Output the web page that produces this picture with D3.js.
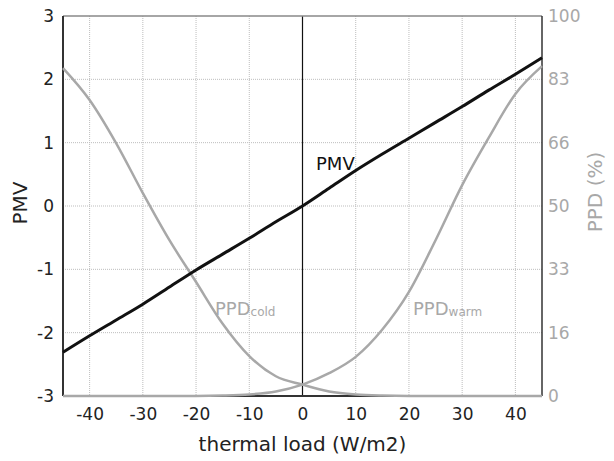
<!DOCTYPE html>
<html>
<head>
<meta charset="utf-8">
<script src="https://cdn.jsdelivr.net/npm/d3@7"></script>
<style>
  body { margin: 0; background: #fff; }
  svg { display: block; }
  text { font-family: "DejaVu Sans", Verdana, sans-serif; }
</style>
</head>
<body>
<svg id="chart" width="614" height="461"></svg>
<script>
// thermal load (W/m2) sample positions
const load = [-45, -40, -35, -30, -25, -20, -15, -10, -5, 0, 5, 10, 15, 20, 25, 30, 35, 40, 45];
// predicted mean vote
const pmv = [-2.31, -2.05, -1.80, -1.55, -1.28, -1.01, -0.76, -0.51, -0.25, 0, 0.28, 0.56, 0.82, 1.07, 1.32, 1.57, 1.83, 2.08, 2.34];
// percentage dissatisfied, cold side and warm side (%)
const ppdCold = [86.3, 77.9, 66.5, 53.4, 41.0, 30.0, 19.0, 10.5, 5.2, 3.0, 1.2, 0.4, 0.1, 0, 0, 0, 0, 0, 0];
const ppdWarm = [0, 0, 0, 0, 0, 0, 0.1, 0.4, 1.2, 3.0, 6.0, 10.3, 17.5, 27.4, 41.0, 55.5, 68.0, 79.5, 86.8];

const xTicks = [-40, -30, -20, -10, 0, 10, 20, 30, 40];
const pmvTicks = [-3, -2, -1, 0, 1, 2, 3];
const ppdTicks = [0, 100 / 6, 200 / 6, 50, 400 / 6, 500 / 6, 100];
const ppdTickLabels = ["0", "16", "33", "50", "66", "83", "100"];

const svg = d3.select("#chart");
const L = 63, R = 542, T = 16, B = 396;
const grey = "#a8a8a8";

const x = d3.scaleLinear().domain([-45, 45]).range([L, R]);
const y = d3.scaleLinear().domain([-3, 3]).range([B, T]);
const yP = d3.scaleLinear().domain([0, 100]).range([B, T]);

// dotted grid
const grid = svg.append("g");
grid.selectAll(".gx").data(xTicks).join("line")
  .attr("x1", d => x(d)).attr("x2", d => x(d)).attr("y1", T).attr("y2", B)
  .attr("stroke", "#bdbdbd").attr("stroke-width", 1).attr("stroke-dasharray", "1,1");
grid.selectAll(".gy").data(pmvTicks.slice(1, -1)).join("line")
  .attr("x1", L).attr("x2", R).attr("y1", d => y(d)).attr("y2", d => y(d))
  .attr("stroke", "#bdbdbd").attr("stroke-width", 1).attr("stroke-dasharray", "1,1");

// zero-load marker
svg.append("line").attr("x1", x(0)).attr("x2", x(0)).attr("y1", T).attr("y2", B)
  .attr("stroke", "#111").attr("stroke-width", 1.2);

// axes (plain hyphen for negative numbers)
const fmt = d => String(d);
const xAxis = d3.axisBottom(x).tickValues(xTicks).tickSize(0).tickPadding(12).tickFormat(fmt);
const gx = svg.append("g").attr("transform", `translate(0,${B})`).call(xAxis);
gx.select(".domain").remove();
gx.selectAll("text").attr("font-size", 17).attr("fill", "#222");

const yAxis = d3.axisLeft(y).tickValues(pmvTicks).tickSize(0).tickPadding(9).tickFormat(fmt);
const gy = svg.append("g").attr("transform", `translate(${L},0)`).call(yAxis);
gy.select(".domain").remove();
gy.selectAll("text").attr("font-size", 17).attr("fill", "#222");

const yAxisR = d3.axisRight(yP).tickValues(ppdTicks).tickSize(0).tickPadding(6)
  .tickFormat((d, i) => ppdTickLabels[i]);
const gr = svg.append("g").attr("transform", `translate(${R},0)`).call(yAxisR);
gr.select(".domain").remove();
gr.selectAll("text").attr("font-size", 17).attr("fill", grey);

// frame
svg.append("line").attr("x1", L).attr("x2", R).attr("y1", T).attr("y2", T)
  .attr("stroke", "#888").attr("stroke-width", 1.5);
svg.append("line").attr("x1", L).attr("x2", L).attr("y1", T).attr("y2", B)
  .attr("stroke", "#333").attr("stroke-width", 2);
svg.append("line").attr("x1", R).attr("x2", R).attr("y1", T).attr("y2", B)
  .attr("stroke", "#333").attr("stroke-width", 1.5);
svg.append("line").attr("x1", L).attr("x2", R).attr("y1", B).attr("y2", B)
  .attr("stroke", "#333").attr("stroke-width", 2);

// curves
const ppdLine = d3.line().x((d, i) => x(load[i])).y(d => yP(d)).curve(d3.curveMonotoneX);
svg.append("path").datum(ppdCold).attr("d", ppdLine)
  .attr("fill", "none").attr("stroke", grey).attr("stroke-width", 2.5);
svg.append("path").datum(ppdWarm).attr("d", ppdLine)
  .attr("fill", "none").attr("stroke", grey).attr("stroke-width", 2.5);

const pmvLine = d3.line().x((d, i) => x(load[i])).y(d => y(d)).curve(d3.curveMonotoneX);
svg.append("path").datum(pmv).attr("d", pmvLine)
  .attr("fill", "none").attr("stroke", "#111").attr("stroke-width", 3);

// series labels
svg.append("text").attr("x", 316).attr("y", 170).attr("font-size", 18).attr("fill", "#111").text("PMV");
const lc = svg.append("text").attr("x", 215).attr("y", 315).attr("font-size", 18).attr("fill", grey);
lc.append("tspan").text("PPD");
lc.append("tspan").attr("font-size", 12).attr("dy", 1).text("cold");
const lw = svg.append("text").attr("x", 413).attr("y", 315).attr("font-size", 18).attr("fill", grey);
lw.append("tspan").text("PPD");
lw.append("tspan").attr("font-size", 12).attr("dy", 1).text("warm");

// axis titles
svg.append("text").attr("x", x(0)).attr("y", 451).attr("text-anchor", "middle")
  .attr("font-size", 20).attr("fill", "#222").text("thermal load (W/m2)");
svg.append("text").attr("transform", `translate(27,203) rotate(-90)`).attr("text-anchor", "middle")
  .attr("font-size", 20).attr("fill", "#222").text("PMV");
svg.append("text").attr("transform", `translate(602,192) rotate(-90)`).attr("text-anchor", "middle")
  .attr("font-size", 20).attr("fill", grey).text("PPD (%)");
</script>
</body>
</html>
